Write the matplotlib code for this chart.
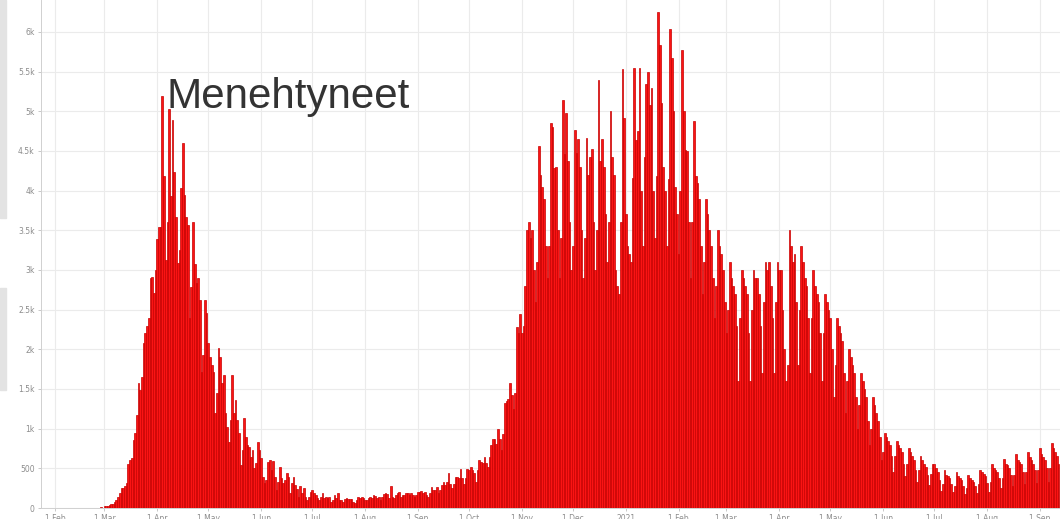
import datetime as dt
import pandas as pd
import matplotlib
matplotlib.use("Agg")
import matplotlib.pyplot as plt
import matplotlib.dates as mdates
from matplotlib.ticker import FuncFormatter, MultipleLocator
from matplotlib.patches import Rectangle

# daily deaths, one list per month (first day 22 Jan 2020)
jan20 = [0, 0, 0, 0, 0, 0, 0, 0, 0, 0]
feb20 = [0, 0, 0, 0, 0, 0, 0, 0, 0, 0, 0, 0, 0, 0, 1, 0, 0, 0, 0, 0,
         1, 2, 3, 3, 6, 5, 4, 8, 6]
mar20 = [20, 25, 30, 40, 50, 55, 70, 100, 143, 185, 250, 250, 280, 310, 560, 600,
         626, 857, 950, 1170, 1570, 1490, 1650, 2075, 2200, 2300, 2390, 2894, 2915,
         2705, 3000]
apr20 = [3385, 3545, 3545, 5191, 4180, 3130, 3610, 5023, 3930, 4890, 4240, 3670,
         3090, 3255, 4030, 4600, 3945, 3670, 3565, 2390, 2790, 3610, 3075, 2830,
         2900, 2620, 1718, 1928, 2620, 2453]
may20 = [2075, 1907, 1800, 1718, 1193, 1445, 2012, 1907, 1571, 1676, 1193, 1025,
         836, 1109, 1676, 1193, 1361, 1109, 940, 542, 730, 1130, 898, 794, 773, 647,
         730, 500, 563, 836, 730]
jun20 = [626, 395, 311, 353, 584, 605, 479, 596, 395, 227, 332, 521, 374, 311, 353,
         445, 395, 185, 311, 395, 290, 235, 143, 277, 185, 248, 143, 100, 143, 206]
jul20 = [227, 185, 164, 122, 100, 143, 185, 122, 143, 122, 134, 80, 100, 164, 122,
         193, 100, 100, 80, 113, 122, 118, 109, 118, 80, 59, 100, 143, 122, 143, 122]
aug20 = [100, 100, 122, 143, 122, 164, 151, 130, 143, 100, 143, 176, 185, 172, 122,
         277, 143, 122, 164, 185, 206, 143, 164, 164, 185, 185, 164, 193, 164, 143, 164]
sep20 = [197, 206, 218, 193, 206, 164, 143, 185, 260, 227, 227, 269, 185, 227, 290,
         332, 290, 332, 445, 303, 248, 303, 386, 395, 374, 496, 374, 303, 374, 487]
oct20 = [479, 512, 479, 437, 332, 479, 605, 584, 571, 647, 571, 521, 638, 794, 865,
         865, 806, 995, 865, 731, 932, 1327, 1352, 1369, 1579, 1424, 1243, 1445, 2285,
         2200, 2450]
nov20 = [2200, 2300, 2800, 3500, 3600, 3400, 3500, 3000, 2600, 3100, 4565, 4200,
         4045, 3900, 3300, 2900, 3300, 4850, 4800, 4280, 4300, 3500, 2900, 3400,
         5140, 4460, 4975, 4370, 3600, 3000]
dec20 = [3300, 4760, 4470, 4650, 4300, 3500, 2900, 3400, 4660, 4200, 4420, 4520,
         3600, 3000, 3500, 5400, 4370, 4650, 4300, 3700, 3100, 3600, 5000, 4430,
         4200, 3000, 2800, 2700, 3600, 5530, 4920]
jan21 = [3700, 3300, 3200, 3100, 4160, 5540, 4640, 4750, 5540, 4000, 3300, 4420,
         5350, 5500, 5080, 5300, 4000, 3400, 4180, 6250, 5830, 5100, 4300, 4000,
         3300, 4150, 6040, 5670, 5000, 4050, 3700]
feb21 = [3200, 4000, 5770, 5000, 4510, 4500, 3600, 2900, 3600, 4880, 4180, 4100,
         3900, 3300, 2700, 3100, 3900, 3700, 3500, 3300, 2900, 2400, 2800, 3500,
         3300, 3200, 3000, 2600]
mar21 = [2200, 2500, 3100, 2900, 2800, 2700, 2300, 1600, 2400, 3000, 2900, 2800,
         2700, 2200, 1600, 2500, 3000, 2900, 2900, 2700, 2300, 1700, 2600, 3100,
         3000, 3100, 2800, 2400, 1700, 2600, 3100]
apr21 = [3000, 3000, 2500, 2000, 1600, 1800, 3500, 3300, 3100, 3200, 2600, 1800,
         2500, 3300, 3100, 2900, 2800, 2400, 1700, 2400, 3000, 2800, 2700, 2600,
         2200, 1600, 2200, 2700, 2600, 2500]
may21 = [2400, 2000, 1400, 1800, 2400, 2300, 2200, 2100, 1700, 1200, 1600, 2000,
         1900, 1800, 1700, 1400, 1000, 1300, 1700, 1600, 1500, 1400, 1100, 800, 1000,
         1400, 1300, 1200, 1100, 900, 600]
jun21 = [700, 950, 900, 850, 800, 650, 450, 650, 850, 800, 750, 700, 550, 400,
         550, 750, 700, 650, 600, 480, 330, 480, 650, 600, 560, 520, 420, 290, 430, 560]
jul21 = [550, 500, 450, 350, 220, 300, 480, 420, 400, 380, 300, 200, 280, 450, 400,
         380, 350, 280, 180, 250, 420, 380, 350, 330, 280, 190, 300, 480, 450, 430, 400]
aug21 = [320, 200, 330, 550, 500, 480, 450, 380, 250, 380, 620, 560, 540, 500, 420,
         280, 420, 680, 600, 580, 550, 450, 300, 450, 700, 640, 600, 560, 480, 320, 480]
sep21 = [750, 680, 640, 600, 500, 330, 500, 820, 750, 700, 650, 550]

month_labels = ["1 Feb", "1 Mar", "1 Apr", "1 May", "1 Jun", "1 Jul", "1 Aug",
                "1 Sep", "1 Oct", "1 Nov", "1 Dec", "2021", "1 Feb", "1 Mar",
                "1 Apr", "1 May", "1 Jun", "1 Jul", "1 Aug", "1 Sep"]
title = "Menehtyneet"

values = (jan20 + feb20 + mar20 + apr20 + may20 + jun20 + jul20 + aug20 + sep20
          + oct20 + nov20 + dec20 + jan21 + feb21 + mar21 + apr21 + may21 + jun21
          + jul21 + aug21 + sep21)
dates = pd.date_range("2020-01-22", periods=len(values), freq="D")
month_ticks = pd.date_range("2020-02-01", "2021-09-01", freq="MS")

W, H = 1060, 519
fig = plt.figure(figsize=(W / 100, H / 100), dpi=100)
ax = fig.add_axes([41 / W, 11 / H, 1019 / W, 508 / H])

ax.bar(dates, values, width=1.0, color="#fa1414", edgecolor="#c80000", linewidth=0.5)

feb1 = mdates.date2num(dt.datetime(2020, 2, 1))
ax.set_xlim(feb1 - 8.2, feb1 + 589.8)
ax.set_ylim(0, 6403)

ax.set_xticks(month_ticks)
ax.set_xticklabels(month_labels)
ax.yaxis.set_major_locator(MultipleLocator(500))
ax.yaxis.set_major_formatter(FuncFormatter(
    lambda v, p: "0" if v == 0 else (f"{v / 1000:g}k" if v >= 1000 else f"{v:g}")))

ax.tick_params(axis="both", colors="#c8c8c8", labelcolor="#8c8c8c", labelsize=5.5,
               length=2.5, width=0.7, pad=2)
ax.grid(color="#ebebeb", linewidth=0.8)
ax.set_axisbelow(True)
for side in ["top", "right"]:
    ax.spines[side].set_visible(False)
for side in ["left", "bottom"]:
    ax.spines[side].set_color("#d0d0d0")
    ax.spines[side].set_linewidth(0.7)

# grey strip at the left edge of the screenshot
fig.patches.append(Rectangle((0, 1 - 218 / H), 6 / W, 218 / H, transform=fig.transFigure,
                             color="#e3e3e3", zorder=0))
fig.patches.append(Rectangle((0, 1 - 390 / H), 6 / W, 102 / H, transform=fig.transFigure,
                             color="#e3e3e3", zorder=0))

fig.text(167 / W, 1 - 108 / H, title, fontsize=30.3, color="#333333",
         family=["Liberation Sans", "DejaVu Sans"], va="baseline", ha="left")

fig.savefig("out.png", dpi=100)
